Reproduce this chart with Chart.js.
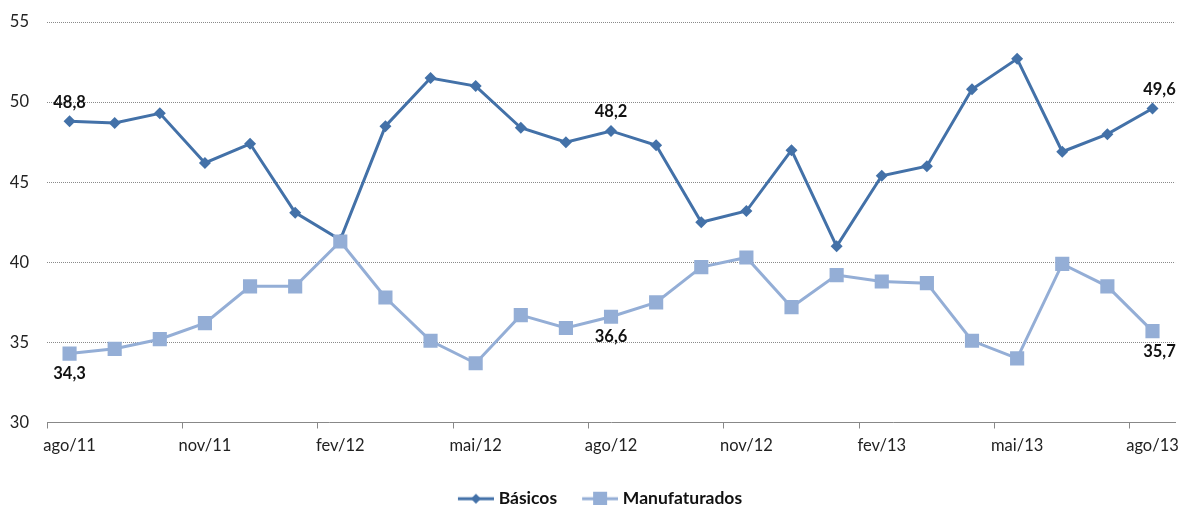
<!DOCTYPE html>
<html>
<head>
<meta charset="utf-8">
<script src="https://cdn.jsdelivr.net/npm/chart.js@4.4.1/dist/chart.umd.min.js"></script>
<style>
  html, body { margin: 0; padding: 0; background: #fff; }
  #wrap { width: 1186px; height: 505px; }
</style>
</head>
<body>
<div id="wrap"><canvas id="chart" width="1186" height="505"></canvas></div>
<script>
// Data
const months = ['ago/11', 'set/11', 'out/11', 'nov/11', 'dez/11', 'jan/12', 'fev/12', 'mar/12', 'abr/12',
  'mai/12', 'jun/12', 'jul/12', 'ago/12', 'set/12', 'out/12', 'nov/12', 'dez/12', 'jan/13', 'fev/13',
  'mar/13', 'abr/13', 'mai/13', 'jun/13', 'jul/13', 'ago/13'];
const basicos = [48.8, 48.7, 49.3, 46.2, 47.4, 43.1, 41.4, 48.5, 51.5, 51.0, 48.4, 47.5, 48.2,
  47.3, 42.5, 43.2, 47.0, 41.0, 45.4, 46.0, 50.8, 52.7, 46.9, 48.0, 49.6];
const manufaturados = [34.3, 34.6, 35.2, 36.2, 38.5, 38.5, 41.3, 37.8, 35.1, 33.7, 36.7, 35.9, 36.6,
  37.5, 39.7, 40.3, 37.2, 39.2, 38.8, 38.7, 35.1, 34.0, 39.9, 38.5, 35.7];
const yTicks = [30, 35, 40, 45, 50, 55];
const labeledPoints = [0, 12, 24];

const darkBlue = '#4371a8';
const lightBlue = '#94aed6';
const FONT = 'Lato';

// small legend icons: line with marker
function legendIcon(color, shape) {
  const c = document.createElement('canvas');
  c.width = 44; c.height = 16;
  const g = c.getContext('2d');
  g.strokeStyle = color;
  g.fillStyle = color;
  g.lineWidth = 3;
  g.beginPath(); g.moveTo(8, 8); g.lineTo(44, 8); g.stroke();
  if (shape === 'diamond') {
    g.beginPath();
    g.moveTo(26, 3); g.lineTo(31, 8); g.lineTo(26, 13); g.lineTo(21, 8);
    g.closePath(); g.fill();
  } else {
    g.fillRect(19, 1, 14, 14);
  }
  return c;
}

// value labels for a few points
const pointLabels = {
  id: 'pointLabels',
  afterLayout(chart) {
    // nudge legend a little to the right, like the original
    chart.legend.left += 8;
    chart.legend.right += 8;
  },
  afterDatasetsDraw(chart) {
    const ctx = chart.ctx;
    ctx.save();
    ctx.font = 'bold 16.5px ' + FONT;
    ctx.fillStyle = '#111';
    ctx.textAlign = 'center';
    ctx.textBaseline = 'middle';
    chart.data.datasets.forEach((ds, di) => {
      const meta = chart.getDatasetMeta(di);
      labeledPoints.forEach(i => {
        const pt = meta.data[i];
        let x = pt.x;
        if (i === ds.data.length - 1) x += 7;
        const y = di === 0 ? pt.y - 19 : pt.y + 20;
        ctx.fillText(ds.data[i].toFixed(1).replace('.', ','), x, y);
      });
    });
    ctx.restore();
  }
};

const ctx = document.getElementById('chart').getContext('2d');
new Chart(ctx, {
  type: 'line',
  data: {
    labels: months,
    datasets: [{
      label: 'Básicos',
      data: basicos,
      borderColor: darkBlue,
      backgroundColor: darkBlue,
      borderWidth: 3,
      pointStyle: 'rectRot',
      pointRadius: 6,
      pointBorderWidth: 0,
      tension: 0,
      order: 1
    }, {
      label: 'Manufaturados',
      data: manufaturados,
      borderColor: lightBlue,
      backgroundColor: lightBlue,
      borderWidth: 3,
      pointStyle: 'rect',
      pointRadius: 10,
      pointBorderWidth: 0,
      tension: 0,
      order: 0
    }]
  },
  options: {
    responsive: false,
    animation: false,
    layout: { padding: { top: 22, right: 6, left: 0, bottom: -12.5 } },
    plugins: {
      tooltip: { enabled: false },
      legend: {
        position: 'bottom',
        labels: {
          usePointStyle: true,
          pointStyleWidth: 36,
          padding: 21,
          color: '#111',
          font: { family: FONT, size: 17.5, weight: 'bold' },
          generateLabels: chart => chart.data.datasets.map((ds, i) => ({
            text: ds.label,
            pointStyle: legendIcon(ds.borderColor, i === 0 ? 'diamond' : 'square'),
            fillStyle: ds.borderColor,
            strokeStyle: 'transparent',
            lineWidth: 0,
            fontColor: '#111',
            hidden: false,
            datasetIndex: i
          }))
        }
      }
    },
    scales: {
      x: {
        offset: true,
        afterFit: s => { s.height = 46.5; },
        grid: {
          offset: true,
          drawOnChartArea: false,
          tickLength: 6,
          color: c => c.index % 3 === 0 ? '#888' : 'transparent'
        },
        border: { color: '#888', width: 1 },
        ticks: {
          autoSkip: false,
          maxRotation: 0,
          padding: 7,
          color: '#222',
          font: { family: FONT, size: 16.5 },
          callback: (v, i) => i % 3 === 0 ? months[i] : ''
        }
      },
      y: {
        min: yTicks[0],
        max: yTicks[yTicks.length - 1],
        afterBuildTicks: s => { s.ticks = yTicks.map(v => ({ value: v })); },
        afterFit: s => { s.width = 47; s.paddingTop = 8; s.paddingBottom = 8; },
        grid: {
          drawTicks: false,
          color: c => c.tick && c.tick.value === 30 ? 'transparent' : '#8a8a8a'
        },
        border: { display: false, dash: [1, 1] },
        ticks: {
          padding: 18,
          color: '#222',
          font: { family: FONT, size: 16.5 }
        }
      }
    }
  },
  plugins: [pointLabels]
});
</script>
</body>
</html>
